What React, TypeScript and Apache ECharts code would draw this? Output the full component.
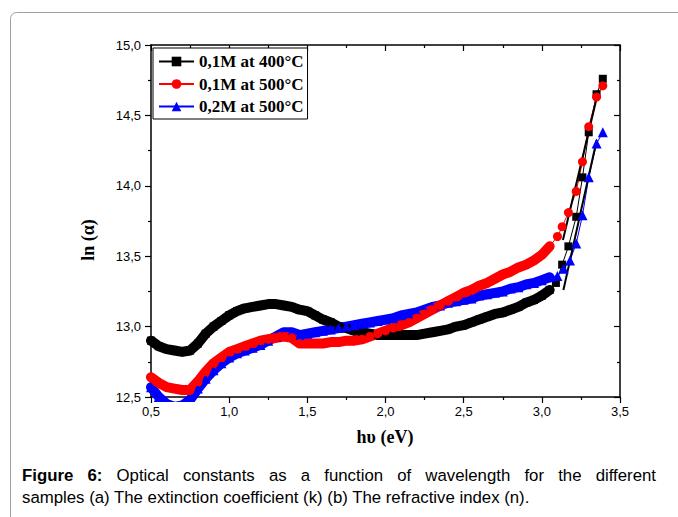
import React, { useEffect, useRef } from "react";
import * as echarts from "echarts";

// Photon energy grid of the densely sampled part of the spectra (eV)
const hvDense = [
  0.5, 0.55, 0.6, 0.65, 0.7, 0.75, 0.8, 0.85, 0.9, 0.95,
  1.0, 1.05, 1.1, 1.15, 1.2, 1.25, 1.3, 1.35, 1.4, 1.45,
  1.5, 1.55, 1.6, 1.65, 1.7, 1.75, 1.8, 1.85, 1.9, 1.95,
  2.0, 2.05, 2.1, 2.15, 2.2, 2.25, 2.3, 2.35, 2.4, 2.45,
  2.5, 2.55, 2.6, 2.65, 2.7, 2.75, 2.8, 2.85, 2.9, 2.95,
  3.0, 3.05,
];

// ln(alpha), 0,1M at 400°C
const ln01M400 = [
  12.9, 12.86, 12.84, 12.83, 12.82, 12.83, 12.88, 12.95, 13.0, 13.04,
  13.08, 13.11, 13.13, 13.14, 13.15, 13.16, 13.16, 13.15, 13.14, 13.12,
  13.11, 13.08, 13.05, 13.03, 13.0, 12.99, 12.97, 12.96, 12.95, 12.94,
  12.94, 12.94, 12.94, 12.94, 12.94, 12.95, 12.96, 12.97, 12.98, 13.0,
  13.01, 13.03, 13.05, 13.07, 13.09, 13.1, 13.12, 13.14, 13.17, 13.19,
  13.22, 13.26,
];
const hvEdge01M400 = [3.09, 3.13, 3.17, 3.22, 3.26, 3.3, 3.35, 3.39];
const lnEdge01M400 = [13.31, 13.44, 13.57, 13.78, 14.06, 14.38, 14.65, 14.76];

// ln(alpha), 0,1M at 500°C
const ln01M500 = [
  12.64, 12.6, 12.57, 12.56, 12.55, 12.55, 12.61, 12.68, 12.74, 12.78,
  12.82, 12.84, 12.86, 12.88, 12.9, 12.91, 12.92, 12.93, 12.92, 12.88,
  12.88, 12.88, 12.88, 12.89, 12.89, 12.9, 12.9, 12.91, 12.93, 12.95,
  12.97, 12.99, 13.01, 13.03, 13.06, 13.09, 13.12, 13.15, 13.18, 13.21,
  13.24, 13.26, 13.29, 13.31, 13.34, 13.37, 13.39, 13.42, 13.44, 13.47,
  13.51, 13.57,
];
const hvEdge01M500 = [3.1, 3.13, 3.17, 3.22, 3.26, 3.3, 3.35, 3.39];
const lnEdge01M500 = [13.64, 13.71, 13.81, 13.96, 14.17, 14.42, 14.63, 14.71];

// ln(alpha), 0,2M at 500°C
const ln02M500 = [
  12.57, 12.5, 12.45, 12.43, 12.44, 12.48, 12.56, 12.63, 12.69, 12.74,
  12.78, 12.81, 12.83, 12.85, 12.87, 12.9, 12.93, 12.96, 12.96, 12.94,
  12.95, 12.96, 12.97, 12.98, 12.99, 13.0, 13.01, 13.02, 13.03, 13.04,
  13.05, 13.06, 13.08, 13.09, 13.1, 13.12, 13.14, 13.15, 13.17, 13.18,
  13.19, 13.2, 13.22, 13.23, 13.24, 13.25, 13.27, 13.28, 13.3, 13.31,
  13.33, 13.35,
];
const hvEdge02M500 = [3.1, 3.14, 3.18, 3.22, 3.26, 3.3, 3.35, 3.39];
const lnEdge02M500 = [13.36, 13.41, 13.47, 13.59, 13.79, 14.06, 14.3, 14.38];

// Linear fits of the absorption edge
const fitHvA = [3.135, 3.363];
const fitLnA = [13.615, 14.68];
const fitHvB = [3.138, 3.351];
const fitLnB = [13.26, 14.325];

const xTicks = [0.5, 3.5];
const yTicks = [12.5, 15.0];

const seriesNames = ["0,1M at 400°C", "0,1M at 500°C", "0,2M at 500°C"];
const seriesColors = ["#000000", "#ff0000", "#0000ff"];
const seriesSymbols = ["rect", "circle", "triangle"];

const captionLine1 = "Figure 6: Optical constants as a function of wavelength for the different";
const captionLine2 = "samples (a) The extinction coefficient (k) (b) The refractive index (n).";

const pairs = (xs: number[], ys: number[]) => xs.map((x, i) => [x, ys[i]]);
const comma = (v: number) => v.toFixed(1).replace(".", ",");

const SANS = '"Liberation Sans", Arial, sans-serif';
const SERIF = '"Liberation Serif", "Times New Roman", serif';

function measure(text: string, font: string) {
  const ctx = document.createElement("canvas").getContext("2d")!;
  ctx.font = font;
  return ctx.measureText(text).width;
}

export default function App() {
  const ref = useRef<HTMLDivElement>(null);

  useEffect(() => {
    const chart = echarts.init(ref.current!, null, { renderer: "svg" });

    const dense = [ln01M400, ln01M500, ln02M500];
    const edgeX = [hvEdge01M400, hvEdge01M500, hvEdge02M500];
    const edgeY = [lnEdge01M400, lnEdge01M500, lnEdge02M500];
    const drawOrder = [0, 2, 1];

    const series: any[] = [];
    drawOrder.forEach((k) => {
      series.push({
        name: "band-" + k,
        type: "line",
        data: pairs(hvDense, dense[k]),
        showSymbol: false,
        silent: true,
        lineStyle: { color: seriesColors[k], width: 10, join: "round", cap: "round" },
      });
      series.push({
        name: seriesNames[k],
        type: "line",
        data: pairs(hvDense.concat(edgeX[k]), dense[k].concat(edgeY[k])),
        symbol: seriesSymbols[k],
        symbolSize: k === 0 ? 8 : k === 1 ? 9 : 10,
        showAllSymbol: true,
        lineStyle: { color: seriesColors[k], width: 1 },
        itemStyle: { color: seriesColors[k] },
      });
    });
    [pairs(fitHvA, fitLnA), pairs(fitHvB, fitLnB)].forEach((d, i) => {
      series.push({
        name: "fit-" + i,
        type: "line",
        data: d,
        showSymbol: false,
        silent: true,
        lineStyle: { color: "#000", width: 2 },
      });
    });

    // Caption: the first line is justified between its margins
    const capSize = 16.8;
    const normalFont = `${capSize}px ${SANS}`;
    const boldFont = `bold ${capSize}px ${SANS}`;
    const words = captionLine1.split(" ");
    const bold = (i: number) => i < 2;
    const widths = words.map((w, i) => measure(w, bold(i) ? boldFont : normalFont));
    const capLeft = 22;
    const capRight = 656;
    const gap = (capRight - capLeft - widths.reduce((a, b) => a + b, 0)) / (words.length - 1);
    let cx = capLeft;
    const captionWords = words.map((w, i) => {
      const el = {
        type: "text",
        x: cx,
        y: 475,
        style: {
          text: w,
          fontSize: capSize,
          fontFamily: SANS,
          fontWeight: bold(i) ? "bold" : "normal",
          fill: "#000",
          verticalAlign: "middle",
        },
      };
      cx += widths[i] + gap;
      return el;
    });

    const axisLine = { show: true, onZero: false, lineStyle: { color: "#000", width: 1.5 } };

    chart.setOption({
      animation: false,
      backgroundColor: "#fff",
      grid: { left: 151, right: 58, top: 45, bottom: 120 },
      legend: {
        data: seriesNames,
        orient: "vertical",
        left: 153,
        top: 48,
        padding: [5, 4, 4, 5],
        itemGap: 5.5,
        itemWidth: 35,
        itemHeight: 12,
        borderColor: "#000",
        borderWidth: 1,
        backgroundColor: "#fff",
        textStyle: { fontFamily: SERIF, fontWeight: "bold", fontSize: 17, color: "#000" },
      },
      xAxis: [
        {
          type: "value",
          min: xTicks[0],
          max: xTicks[1],
          interval: 0.5,
          position: "bottom",
          axisLine,
          axisTick: { show: true, length: 6, lineStyle: { color: "#000", width: 1.2 } },
          minorTick: { show: true, splitNumber: 2, length: 3, lineStyle: { color: "#000", width: 1.2 } },
          splitLine: { show: false },
          axisLabel: { formatter: comma, fontFamily: SANS, fontSize: 13, color: "#000", margin: 8 },
        },
        {
          type: "value",
          min: xTicks[0],
          max: xTicks[1],
          interval: 0.5,
          position: "top",
          axisLine,
          axisTick: { show: true, inside: true, length: 6, lineStyle: { color: "#000", width: 1.2 } },
          minorTick: { show: true, splitNumber: 2, length: 3, lineStyle: { color: "#000", width: 1.2 } },
          splitLine: { show: false },
          axisLabel: { show: false },
        },
      ],
      yAxis: [
        {
          type: "value",
          min: yTicks[0],
          max: yTicks[1],
          interval: 0.5,
          position: "left",
          axisLine,
          axisTick: { show: true, length: 6, lineStyle: { color: "#000", width: 1.2 } },
          minorTick: { show: true, splitNumber: 2, length: 3, lineStyle: { color: "#000", width: 1.2 } },
          splitLine: { show: false },
          axisLabel: { formatter: comma, fontFamily: SANS, fontSize: 13, color: "#000", margin: 10 },
        },
        {
          type: "value",
          min: yTicks[0],
          max: yTicks[1],
          interval: 0.5,
          position: "right",
          axisLine,
          axisTick: { show: true, inside: true, length: 6, lineStyle: { color: "#000", width: 1.2 } },
          minorTick: { show: true, splitNumber: 2, length: 3, lineStyle: { color: "#000", width: 1.2 } },
          splitLine: { show: false },
          axisLabel: { show: false },
        },
      ],
      series,
      graphic: [
        {
          type: "rect",
          silent: true,
          shape: { x: 10.5, y: 12.5, width: 720, height: 600, r: 6 },
          style: { fill: "none", stroke: "#a0a0a0", lineWidth: 1 },
        },
        {
          type: "text",
          x: 88,
          y: 240,
          rotation: Math.PI / 2,
          style: {
            text: "ln (α)",
            fontFamily: SERIF,
            fontWeight: "bold",
            fontSize: 18,
            fill: "#000",
            align: "center",
            verticalAlign: "middle",
          },
        },
        {
          type: "text",
          x: 385,
          y: 437,
          style: {
            text: "hυ (eV)",
            fontFamily: SERIF,
            fontWeight: "bold",
            fontSize: 18,
            fill: "#000",
            align: "center",
            verticalAlign: "middle",
          },
        },
        ...captionWords,
        {
          type: "text",
          x: capLeft,
          y: 497,
          style: {
            text: captionLine2,
            fontSize: capSize,
            fontFamily: SANS,
            fill: "#000",
            verticalAlign: "middle",
          },
        },
      ],
    });

    return () => chart.dispose();
  }, []);

  return (
    <div
      ref={ref}
      style={{ position: "fixed", left: 0, top: 0, width: 678, height: 517, background: "#fff" }}
    />
  );
}
